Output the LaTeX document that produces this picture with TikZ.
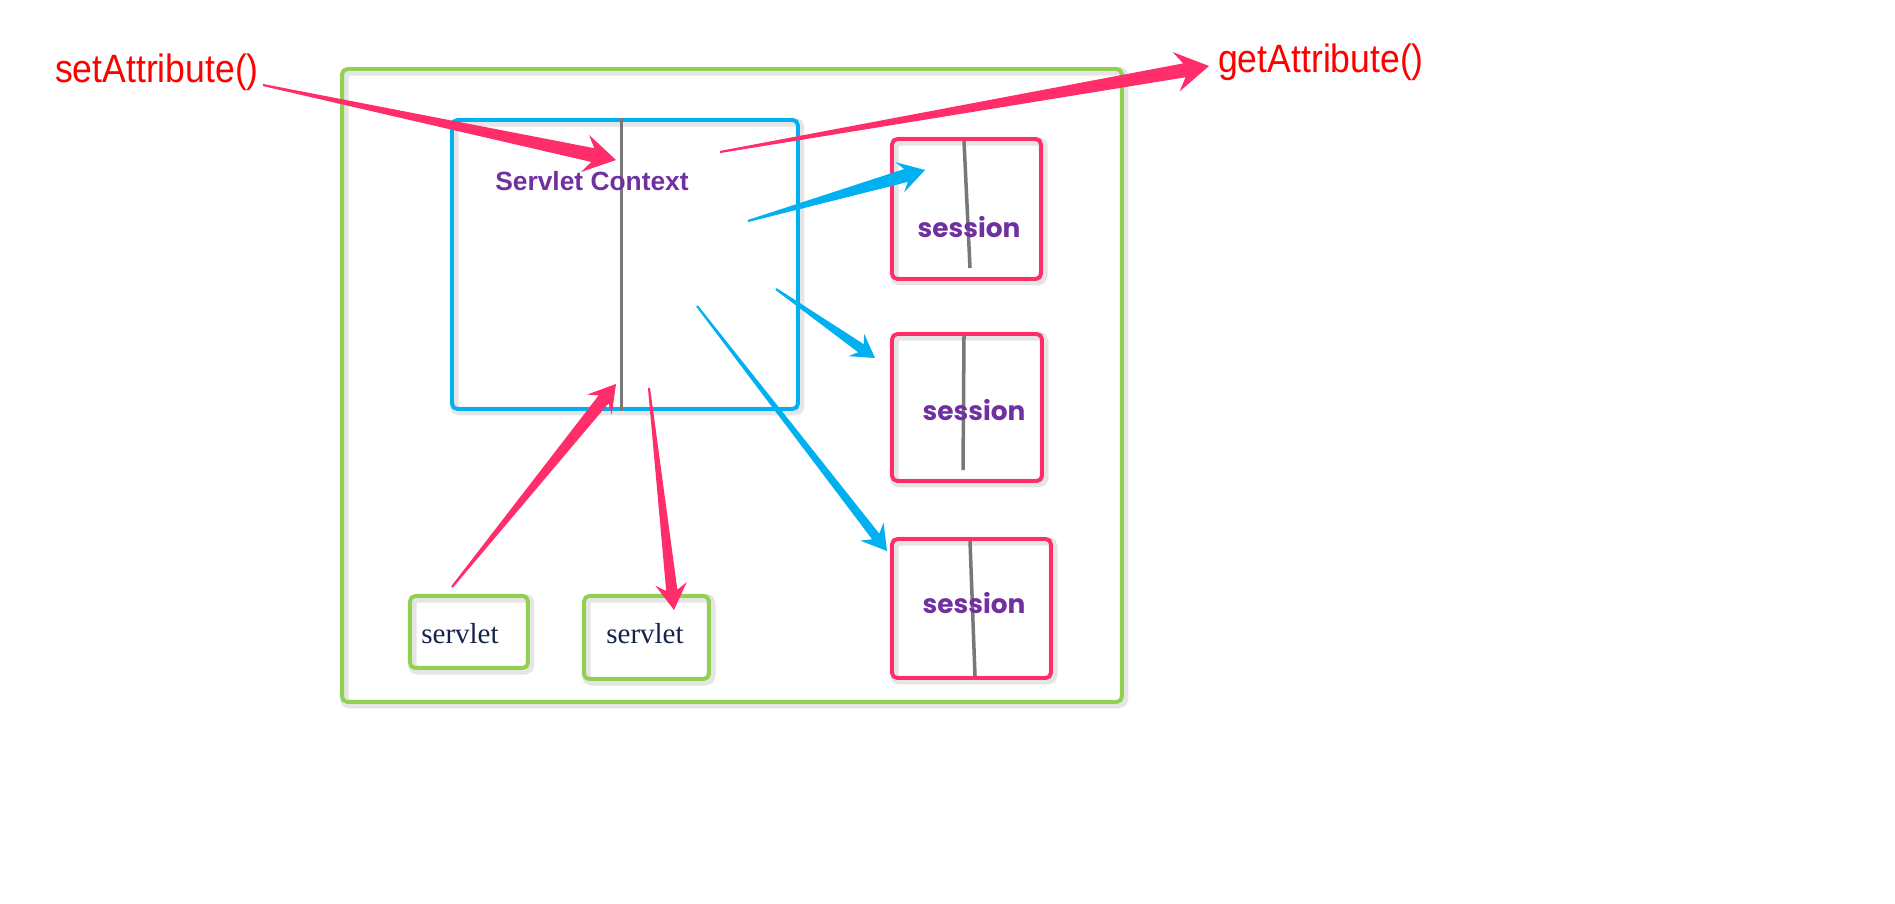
\documentclass[tikz,border=0pt]{standalone}
\usepackage{graphicx}
\usepackage{fontspec}
\setmainfont{Liberation Serif}
\setsansfont{Liberation Sans}
\newfontfamily\sessfont{Poppins}
\usetikzlibrary{calc}

\definecolor{boxgreen}{RGB}{146,208,80}
\definecolor{ctxblue}{RGB}{0,176,240}
\definecolor{arrowred}{RGB}{255,45,105}
\definecolor{labelpurple}{RGB}{112,48,160}
\definecolor{servletnavy}{RGB}{20,36,72}
\definecolor{divgray}{RGB}{120,120,120}

% tapered arrow: from, to, colour, shaft half width (pt), head length (pt)
\newcommand\taperarrow[5]{%
  \coordinate (tp-tl) at ($(#1)!0.6pt!-90:(#2)$);
  \coordinate (tp-tr) at ($(#1)!0.6pt!90:(#2)$);
  \coordinate (tp-n) at ($(#2)!0.75*#5pt!(#1)$);
  \coordinate (tp-b) at ($(#2)!#5pt!(#1)$);
  \coordinate (tp-nl) at ($(tp-n)!#4pt!90:(#1)$);
  \coordinate (tp-nr) at ($(tp-n)!#4pt!-90:(#1)$);
  \coordinate (tp-hl) at ($(tp-b)!0.6*#5pt!90:(#1)$);
  \coordinate (tp-hr) at ($(tp-b)!0.6*#5pt!-90:(#1)$);
  \fill[#3] (tp-tl) -- (tp-nl) -- (tp-hl) -- (#2) -- (tp-hr) -- (tp-nr) -- (tp-tr) -- cycle;
}
\newcommand\narrowtext[1]{\scalebox{0.9}[1]{#1}}

\tikzset{
  shadowed/.style={preaction={draw=black!10, line width=5pt,
      transform canvas={shift={(1.2pt,-1.2pt)}}}},
  frame/.style={draw, rounded corners=3pt, line width=2.2pt, shadowed},
  container/.style={frame, draw=boxgreen, minimum width=15.6cm, minimum height=12.66cm},
  ctxbox/.style={frame, draw=ctxblue, minimum width=6.92cm, minimum height=5.78cm},
  sessbox/.style={frame, draw=arrowred},
  servbox/.style={frame, draw=boxgreen},
  divider/.style={draw=divgray, line width=2pt},
  methodlabel/.style={text=red, font=\sffamily\fontsize{22.5}{26}\selectfont},
  ctxlabel/.style={text=labelpurple, font=\sffamily\bfseries\fontsize{15}{18}\selectfont},
  sesslabel/.style={text=labelpurple, font=\sessfont\bfseries\fontsize{15}{18}\selectfont},
  servlabel/.style={text=servletnavy, font=\rmfamily\fontsize{16.5}{19}\selectfont}
}

\begin{document}
\begin{tikzpicture}[x=0.02cm, y=-0.02cm]
  \useasboundingbox (0,0) rectangle (1895,903);

  \node[container] (app) at (732,385.5) {};
  \node[ctxbox] (ctx) at (625,264.5) {};
  \node[sessbox, minimum width=2.98cm, minimum height=2.8cm] (sess1) at (966.5,209) {};
  \node[sessbox, minimum width=3.0cm, minimum height=2.94cm] (sess2) at (967,407.5) {};
  \node[sessbox, minimum width=3.18cm, minimum height=2.78cm] (sess3) at (971.5,608.5) {};
  \node[servbox, minimum width=2.36cm, minimum height=1.44cm] (serv1) at (469,632) {};
  \node[servbox, minimum width=2.5cm, minimum height=1.66cm] (serv2) at (646.5,637.5) {};

  % dividing lines
  \draw[divider] ($(ctx.north west)!0.49!(ctx.north east)$) -- ($(ctx.south west)!0.49!(ctx.south east)$);
  \draw[divider] (964,141) -- (970,268);
  \draw[divider] (964,336) -- (963,470);
  \draw[divider] (970,541) -- (975,676);

  % texts
  \node[ctxlabel] (ctxtext) at (592,181) {Servlet Context};
  \node[sesslabel] (sesstext1) at (969,227) {session};
  \node[sesslabel] (sesstext2) at (974,410) {session};
  \node[sesslabel] (sesstext3) at (974,603) {session};
  \node[servlabel] (servtext1) at (460,634) {servlet};
  \node[servlabel] (servtext2) at (645,634) {servlet};
  \node[methodlabel] (setattr) at (157,72) {\narrowtext{setAttribute()}};
  \node[methodlabel] (getattr) at (1321,62) {\narrowtext{getAttribute()}};

  % arrow ends
  \coordinate (set-from) at (263,85);
  \coordinate (set-to) at (616,160);
  \coordinate (get-from) at (720,152);
  \coordinate (get-to) at (1209,66);
  \coordinate (b1-from) at (748,221);
  \coordinate (b1-to) at (925,170);
  \coordinate (b2-from) at (776,289);
  \coordinate (b2-to) at (875,358);
  \coordinate (b3-from) at (697,306);
  \coordinate (b3-to) at (887,551);
  \coordinate (up-from) at (452,587);
  \coordinate (up-to) at (616,384);
  \coordinate (down-from) at (649,388);
  \coordinate (down-to) at (674,610);

  \taperarrow{set-from}{set-to}{arrowred}{4}{18}
  \taperarrow{get-from}{get-to}{arrowred}{4}{19}
  \taperarrow{b1-from}{b1-to}{ctxblue}{3.8}{15}
  \taperarrow{b2-from}{b2-to}{ctxblue}{2.8}{13}
  \taperarrow{b3-from}{b3-to}{ctxblue}{2.6}{14}
  \taperarrow{up-from}{up-to}{arrowred}{3.6}{15}
  \taperarrow{down-from}{down-to}{arrowred}{3.2}{15}
\end{tikzpicture}
\end{document}
